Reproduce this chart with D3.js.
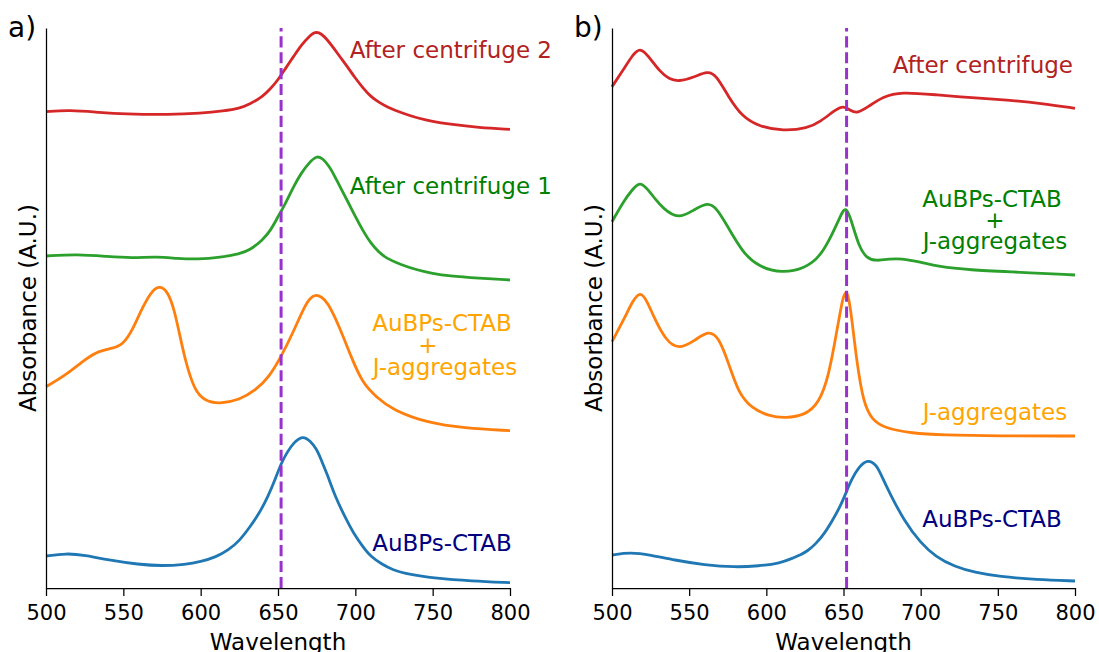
<!DOCTYPE html>
<html>
<head>
<meta charset="utf-8">
<script src="https://cdn.jsdelivr.net/npm/d3@7"></script>
<style>
  html, body { margin: 0; padding: 0; background: #fff; }
  svg { display: block; font-family: "DejaVu Sans", sans-serif; }
</style>
</head>
<body>
<svg id="chart" width="1099" height="652"></svg>
<script>
// ---------- data (wavelength nm, absorbance A.U. with vertical offsets) ----------
const xTicks = [500, 550, 600, 650, 700, 750, 800];
const markerWavelength = 652;

// Panel a
const aRedWl = [500,515,535,550,580,600,615,625,632,640,645,650,655,660,665,670,674,678,682,686,690,695,700,705,710,715,720,730,740,750,760,780,800];
const aRedAbs = [4.763,4.780,4.755,4.740,4.733,4.747,4.770,4.795,4.840,4.913,4.990,5.080,5.200,5.313,5.430,5.513,5.565,5.545,5.480,5.400,5.313,5.210,5.097,5.000,4.913,4.860,4.813,4.750,4.700,4.665,4.640,4.603,4.587];

const aGreenWl = [500,520,540,555,572,585,598,613,625,632,640,645,650,655,660,665,670,675,679,683,687,690,695,700,705,710,715,720,730,740,750,760,780,800];
const aGreenAbs = [3.320,3.337,3.315,3.300,3.313,3.295,3.287,3.307,3.340,3.380,3.480,3.570,3.713,3.850,4.013,4.150,4.250,4.325,4.295,4.220,4.110,4.013,3.870,3.713,3.570,3.447,3.360,3.297,3.230,3.180,3.145,3.120,3.097,3.080];

const aOrangeWl = [500,513,526,534.5,543,549.6,556,562.5,569,573.7,578.7,583,586.2,590.5,596,602.4,612,625,635.8,644.4,652,659.5,667,671,674.6,678,682,689.7,697.2,704.7,713.4,724,747,770,800];
const aOrangeAbs = [2.013,2.130,2.297,2.373,2.397,2.430,2.580,2.813,2.985,3.020,2.968,2.780,2.547,2.247,1.980,1.873,1.840,1.880,1.980,2.113,2.313,2.547,2.813,2.905,2.935,2.912,2.863,2.613,2.313,2.047,1.913,1.780,1.650,1.600,1.573];

const aBlueWl = [500,513,525,540,560,575,590,600,610,618,625,632,638,643.5,648,652,656,660,666,671,675,678,682,687,693,698.8,705,710,717,724,735,752,775,800];
const aBlueAbs = [0.320,0.347,0.330,0.280,0.235,0.220,0.235,0.263,0.310,0.380,0.470,0.613,0.750,0.913,1.080,1.247,1.360,1.452,1.525,1.468,1.390,1.280,1.130,0.913,0.720,0.547,0.410,0.313,0.240,0.180,0.135,0.097,0.070,0.053];

// Panel b
const bRedWl = [500,508.6,513,518,524,531,537,543,553,562,567.5,575.4,584.3,595.5,611,626.7,635,644.5,650,654.5,659,666,675.6,687,711,733,756,778,800];
const bRedAbs = [5.013,5.213,5.320,5.410,5.313,5.163,5.090,5.063,5.107,5.170,5.130,4.913,4.713,4.613,4.570,4.597,4.663,4.780,4.825,4.773,4.745,4.813,4.913,4.963,4.930,4.903,4.880,4.847,4.797];

const bGreenWl = [500,508,513,518,523,528,533,543,553,562,568,575,585,595,610,625,635,643,648,651.5,655,660,665,671,680,687,700,711,733,756,800];
const bGreenAbs = [3.663,3.880,3.980,4.065,3.990,3.890,3.797,3.687,3.780,3.860,3.797,3.613,3.347,3.213,3.147,3.197,3.313,3.547,3.720,3.825,3.680,3.413,3.297,3.270,3.290,3.297,3.260,3.213,3.180,3.163,3.130];

const bOrangeWl = [500,508.6,513,518.4,523,527,534.6,543.2,554,562.6,569,575.6,582,590.7,601.5,612.3,625.3,634,640.4,645.8,649,650.5,651.8,653.2,655,658.7,663,668.5,677,694.4,713.8,750,800];
const bOrangeAbs = [2.463,2.713,2.860,2.975,2.860,2.713,2.480,2.380,2.480,2.575,2.513,2.247,1.947,1.797,1.720,1.697,1.730,1.847,2.113,2.580,2.860,2.935,2.965,2.915,2.747,2.247,1.847,1.680,1.597,1.547,1.530,1.520,1.520];

const bBlueWl = [500,512,525,540,560,580,595,608.8,618,622,626.7,632,637.8,643,647.8,652,655,660,665.6,671.3,675,680,689,700,710,722,735,751,775,800];
const bBlueAbs = [0.330,0.357,0.330,0.280,0.230,0.207,0.220,0.247,0.305,0.330,0.370,0.440,0.547,0.680,0.813,0.965,1.080,1.213,1.288,1.235,1.110,0.947,0.680,0.447,0.310,0.213,0.155,0.113,0.085,0.070];

const seriesColors = { red: "#d62728", green: "#2ca02c", orange: "#ff7f0e", blue: "#1f77b4" };
const textColors = { red: "#b22222", green: "#008000", orange: "#ffa500", blue: "#000080" };

// ---------- drawing ----------
const svg = d3.select("#chart");
const yTop = 28, yBottom = 588;
const y = d3.scaleLinear().domain([0, 5.6]).range([yBottom, yTop]);

function zip(wl, ab) { return wl.map((w, i) => [w, ab[i]]); }

function panel(opts) {
  const x = d3.scaleLinear().domain([500, 800]).range([opts.x0, opts.x1]);
  const g = svg.append("g");
  const line = d3.line().x(d => x(d[0])).y(d => y(d[1])).curve(d3.curveBasis);

  opts.series.forEach(s => {
    g.append("path")
      .datum(zip(s.wl, s.abs))
      .attr("d", line)
      .attr("fill", "none")
      .attr("stroke", seriesColors[s.color])
      .attr("stroke-width", 2.8)
      .attr("stroke-linejoin", "round")
      .attr("stroke-linecap", "butt");
  });

  // dashed marker line (drawn bottom to top)
  g.append("line")
    .attr("x1", x(markerWavelength)).attr("x2", x(markerWavelength))
    .attr("y1", y(0)).attr("y2", y(5.6))
    .attr("stroke", "#9932cc")
    .attr("stroke-width", 3)
    .attr("stroke-dasharray", "11.1,4.8");

  // axes
  const xAxis = d3.axisBottom(x).tickValues(xTicks).tickSize(8).tickSizeOuter(0).tickPadding(9);
  const gx = g.append("g").attr("transform", `translate(0,${yBottom})`).call(xAxis);
  gx.select(".domain").attr("stroke", "#000").attr("stroke-width", 1.25);
  gx.selectAll(".tick line").attr("stroke", "#000").attr("stroke-width", 1.25);
  gx.selectAll(".tick text").attr("font-size", 21).attr("font-family", "DejaVu Sans").attr("fill", "#000");

  const yAxis = d3.axisLeft(y).tickValues([]).tickSizeOuter(0);
  const gy = g.append("g").attr("transform", `translate(${opts.x0},0)`).call(yAxis);
  gy.select(".domain").attr("stroke", "#000").attr("stroke-width", 1.25);

  // axis titles
  g.append("text")
    .attr("x", (opts.x0 + opts.x1) / 2).attr("y", 650)
    .attr("text-anchor", "middle").attr("font-size", 23).attr("fill", "#000")
    .text("Wavelength");
  g.append("text")
    .attr("transform", `translate(${opts.x0 - 10},${(yTop + yBottom) / 2}) rotate(-90)`)
    .attr("text-anchor", "middle").attr("font-size", 23).attr("fill", "#000")
    .text("Absorbance (A.U.)");

  // panel letter
  g.append("text")
    .attr("x", opts.x0 - 38).attr("y", 37)
    .attr("font-size", 28).attr("fill", "#000")
    .text(opts.letter);

  // annotations
  opts.labels.forEach(l => {
    g.append("text")
      .attr("x", l.x).attr("y", l.y)
      .attr("text-anchor", l.anchor)
      .attr("font-size", 23)
      .attr("fill", textColors[l.color])
      .text(l.text);
  });
}

panel({
  x0: 46, x1: 510, letter: "a)",
  series: [
    { wl: aBlueWl, abs: aBlueAbs, color: "blue" },
    { wl: aOrangeWl, abs: aOrangeAbs, color: "orange" },
    { wl: aGreenWl, abs: aGreenAbs, color: "green" },
    { wl: aRedWl, abs: aRedAbs, color: "red" }
  ],
  labels: [
    { text: "After centrifuge 2", x: 552, y: 58, anchor: "end", color: "red" },
    { text: "After centrifuge 1", x: 552, y: 194, anchor: "end", color: "green" },
    { text: "AuBPs-CTAB", x: 442, y: 331, anchor: "middle", color: "orange" },
    { text: "+", x: 428, y: 353, anchor: "middle", color: "orange" },
    { text: "J-aggregates", x: 445, y: 375, anchor: "middle", color: "orange" },
    { text: "AuBPs-CTAB", x: 442, y: 551, anchor: "middle", color: "blue" }
  ]
});

panel({
  x0: 612, x1: 1075, letter: "b)",
  series: [
    { wl: bBlueWl, abs: bBlueAbs, color: "blue" },
    { wl: bOrangeWl, abs: bOrangeAbs, color: "orange" },
    { wl: bGreenWl, abs: bGreenAbs, color: "green" },
    { wl: bRedWl, abs: bRedAbs, color: "red" }
  ],
  labels: [
    { text: "After centrifuge", x: 1073, y: 73, anchor: "end", color: "red" },
    { text: "AuBPs-CTAB", x: 992, y: 207, anchor: "middle", color: "green" },
    { text: "+", x: 995, y: 228, anchor: "middle", color: "green" },
    { text: "J-aggregates", x: 995, y: 249, anchor: "middle", color: "green" },
    { text: "J-aggregates", x: 995, y: 420, anchor: "middle", color: "orange" },
    { text: "AuBPs-CTAB", x: 992, y: 527, anchor: "middle", color: "blue" }
  ]
});
</script>
</body>
</html>
